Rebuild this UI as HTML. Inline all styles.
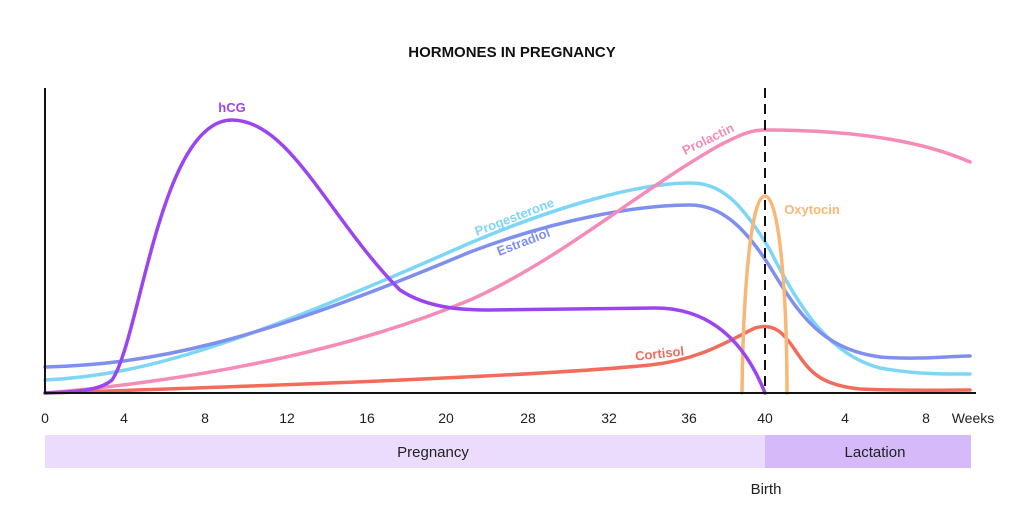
<!DOCTYPE html>
<html><head><style>
body{margin:0;background:#fff;}
svg{display:block;font-family:"Liberation Sans",sans-serif;}
</style></head><body>
<svg width="1024" height="518" viewBox="0 0 1024 518" xmlns="http://www.w3.org/2000/svg">
<text x="512" y="57" text-anchor="middle" font-size="15" font-weight="bold" fill="#111">HORMONES IN PREGNANCY</text>
<g fill="none" stroke-width="3.5" stroke-linecap="round">
<path d="M45,380 C150,375 250,340 470,243 C560,205 640,183 690,183 C720,183 740,200 770,250 C800,310 830,355 880,368 C920,375 950,374 970,374" stroke="#7dd6f5"/>
<path d="M45,367 C150,364 250,345 470,252 C560,218 640,205 690,205 C720,205 745,225 775,275 C805,325 830,350 880,357 C920,360 950,356 970,356" stroke="#7f8ff0"/>
<path d="M45,393 C200,380 350,350 470,300 C560,260 640,190 720,145 C740,135 750,130 765,130 C850,130 920,140 970,162" stroke="#f58bb8"/>
<path d="M45,393 C300,385 550,375 650,365 C700,360 730,340 755,328 C775,322 785,335 795,350 C810,372 820,385 860,389 C900,391 950,390 970,390" stroke="#f26b5b"/>
<path d="M742,393 C743,300 750,196 765,196 C780,196 787,300 787,393" stroke="#f8b776"/>
<path d="M45,393 C80,392 100,390 112,380 C140,340 160,120 232,120 C290,120 330,220 400,290 C430,310 470,310 490,310 L655,308 C700,308 740,330 765,393" stroke="#9b45f0"/>
</g>
<line x1="45" y1="88" x2="45" y2="394" stroke="#111" stroke-width="2"/>
<line x1="44" y1="393" x2="976" y2="393" stroke="#111" stroke-width="2"/>
<line x1="765" y1="88" x2="765" y2="393" stroke="#111" stroke-width="2" stroke-dasharray="10,6"/>
<g font-size="13" font-weight="bold">
<text x="232" y="112" text-anchor="middle" fill="#9b45f0">hCG</text>
<text x="516" y="221" text-anchor="middle" fill="#7dd6f5" transform="rotate(-21 516 221)">Progesterone</text>
<text x="525" y="246" text-anchor="middle" fill="#7f8ff0" transform="rotate(-21 525 246)">Estradiol</text>
<text x="710" y="143" text-anchor="middle" fill="#f58bb8" transform="rotate(-26 710 143)">Prolactin</text>
<text x="812" y="214" text-anchor="middle" fill="#f8b776">Oxytocin</text>
<text x="660" y="358" text-anchor="middle" fill="#f26b5b" transform="rotate(-6 660 358)">Cortisol</text>
</g>
<g font-size="14" fill="#222" text-anchor="middle">
<text x="45" y="423">0</text><text x="124" y="423">4</text><text x="205" y="423">8</text>
<text x="287" y="423">12</text><text x="367" y="423">16</text><text x="446" y="423">20</text>
<text x="528" y="423">28</text><text x="609" y="423">32</text><text x="689" y="423">36</text>
<text x="765" y="423">40</text><text x="845" y="423">4</text><text x="926" y="423">8</text>
<text x="973" y="423">Weeks</text>
</g>
<rect x="45" y="435" width="720" height="33" fill="#ebdcfd"/>
<rect x="765" y="435" width="206" height="33" fill="#d6b9f8"/>
<text x="433" y="457" text-anchor="middle" font-size="15" fill="#222">Pregnancy</text>
<text x="875" y="457" text-anchor="middle" font-size="15" fill="#222">Lactation</text>
<text x="766" y="494" text-anchor="middle" font-size="15" fill="#222">Birth</text>
</svg>
</body></html>
